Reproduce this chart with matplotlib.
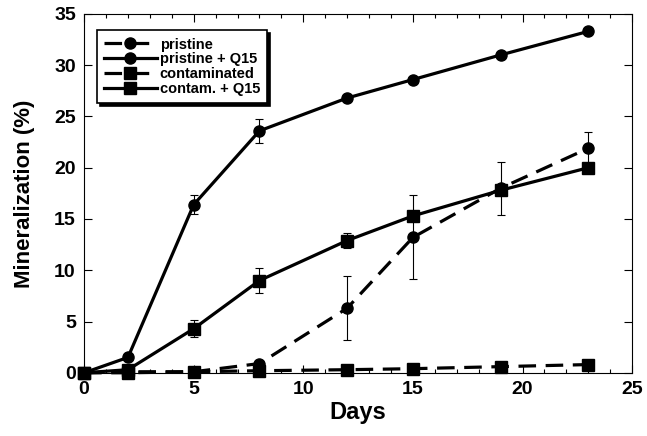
import numpy as np
import matplotlib.pyplot as plt
from matplotlib.ticker import MultipleLocator

plt.rcParams['font.family'] = ['Liberation Sans', 'DejaVu Sans']
plt.rcParams['font.weight'] = 'bold'

# Данные
days = np.array([0, 2, 5, 8, 12, 15, 19, 23])

pristine = np.array([0, 0.1, 0.1, 0.9, 6.3, 13.2, 18.0, 21.9])
pristine_err = np.array([0, 0, 0, 0, 3.1, 4.1, 2.6, 1.6])

pristine_q15 = np.array([0, 1.5, 16.4, 23.6, 26.8, 28.6, 31.0, 33.3])
pristine_q15_err = np.array([0, 0, 0.9, 1.2, 0, 0, 0, 0])

contaminated = np.array([0, 0, 0.1, 0.2, 0.3, 0.4, 0.6, 0.8])
contaminated_err = np.array([0, 0, 0, 0, 0, 0, 0, 0])

contam_q15 = np.array([0, 0.3, 4.3, 9.0, 12.9, 15.3, 17.8, 20.0])
contam_q15_err = np.array([0, 0, 0.8, 1.2, 0.7, 0.5, 0, 0])

fig = plt.figure(figsize=(6.47, 4.36), dpi=100)
ax = fig.add_axes([0.130, 0.145, 0.847, 0.823])

dash = (0, (5.5, 3))
series = [
    (pristine, pristine_err, 'o', dash, 'pristine'),
    (pristine_q15, pristine_q15_err, 'o', '-', 'pristine + Q15'),
    (contaminated, contaminated_err, 's', dash, 'contaminated'),
    (contam_q15, contam_q15_err, 's', '-', 'contam. + Q15'),
]

for vals, err, m, ls, lab in series:
    mask = err > 0
    ax.errorbar(days[mask], vals[mask], yerr=err[mask], fmt='none',
                ecolor='black', elinewidth=0.8, capsize=3, capthick=0.8)
    ax.plot(days, vals, color='black', linestyle=ls, linewidth=2.3,
            marker=m, markersize=8, label=lab, clip_on=False)

ax.set_xlim(0, 25)
ax.set_ylim(0, 35)
ax.xaxis.set_major_locator(MultipleLocator(5))
ax.xaxis.set_minor_locator(MultipleLocator(1))
ax.yaxis.set_major_locator(MultipleLocator(5))
ax.tick_params(which='both', direction='in', top=True, right=True)
ax.tick_params(which='major', length=6, width=0.8, labelsize=14, pad=6)
ax.tick_params(which='minor', length=3, width=0.8)

ax.set_xlabel('Days', fontsize=17, fontweight='bold', labelpad=2)
ax.set_ylabel('Mineralization (%)', fontsize=16, fontweight='bold', labelpad=14)

leg = ax.legend(loc='upper left', bbox_to_anchor=(0.01, 0.975), fontsize=10.5,
                frameon=True, fancybox=False, shadow={'color': 'black', 'alpha': 1},
                edgecolor='black', framealpha=1, handlelength=3.6,
                labelspacing=0.05, borderpad=0.5, handletextpad=0.2)
leg.get_frame().set_linewidth(1.2)

plt.savefig('out.png', dpi=100)
